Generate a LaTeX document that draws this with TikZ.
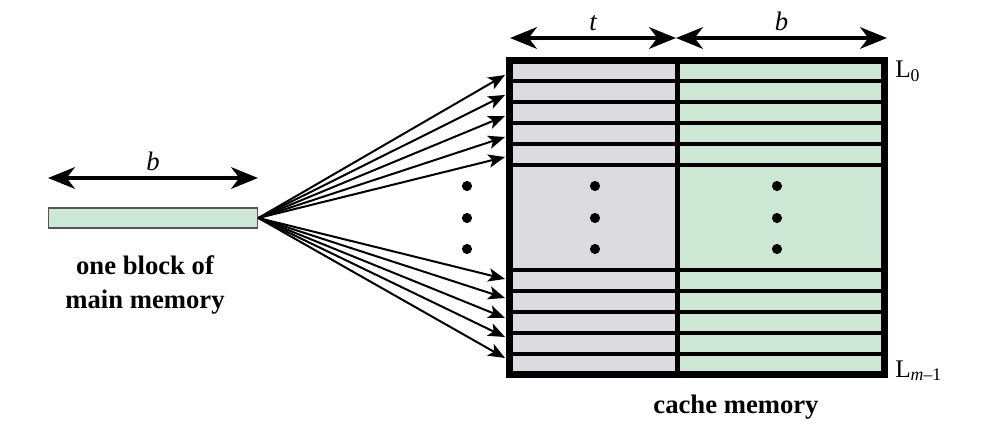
\documentclass[tikz,border=0pt]{standalone}
\usepackage{fontspec}
\setmainfont{Liberation Serif}
\usetikzlibrary{arrows.meta, positioning}
\definecolor{tagfill}{HTML}{DCDCDF}
\definecolor{datafill}{HTML}{CCE8D4}
\definecolor{edgegray}{HTML}{555555}

\begin{document}
\begin{tikzpicture}[x=0.75pt, y=-0.75pt,
    block/.style={rectangle, draw=edgegray, line width=1.1pt, fill=datafill, minimum width=157pt, minimum height=15pt, inner sep=0pt},
    frame/.style={rectangle, draw, line width=5.25pt, minimum width=281.25pt, minimum height=235.5pt, inner sep=0pt},
    dim/.style={line width=3.6pt, {Stealth[length=20pt,width=16pt,inset=6pt]}-{Stealth[length=20pt,width=16pt,inset=6pt]}},
    fan/.style={line width=1.5pt, -{Stealth[length=12.5pt,width=10pt,inset=3pt]}},
    caption/.style={font=\fontsize{20}{25.3}\selectfont\bfseries, align=center},
    sym/.style={font=\fontsize{20}{24}\selectfont\itshape},
    linelbl/.style={font=\fontsize{19}{22}\selectfont, anchor=base west, inner sep=0pt}]
    \useasboundingbox (0,0) rectangle (986,428);

    % main memory block
    \node [block] (blk) at (153,218) {};
    \coordinate (bL) at (48,178);
    \coordinate (bR) at (258,178);
    \draw [dim] (bL) -- node [above, sym] {b} (bR);
    \node [caption] (blklbl) at (145,285) {one block of\\main memory};

    % cache lines
    \fill [tagfill] (513,63.5) rectangle (677,371);
    \fill [datafill] (677,63.5) rectangle (881,371);
    \foreach \y in {81,102,123,144,165,270,291,312,333,354}
        \draw [line width=3pt] (509,\y) -- (884,\y);
    \draw [line width=3.75pt] (677,60.5) -- (677,374.5);
    \node [frame] (cache) at (697,217.5) {};
    \node [caption] (cachelbl) at (736,407) {cache memory};
    \node [linelbl] (lfirst) at (895,78) {L\textsubscript{0}};
    \node [linelbl] (llast) at (895,377) {L\textsubscript{\textit{m}\textendash1}};

    % tag and block widths
    \coordinate (tL) at (510,38);
    \coordinate (tR) at (676,38);
    \coordinate (dR) at (887,38);
    \draw [dim] (tL) -- node [above, sym] {t} (tR);
    \draw [dim] (tR) -- node [above, sym] {b} (dR);

    % block may go to any line
    \foreach \y [count=\i] in {75,95,116,137,157,279,298,318,337,358}
        \coordinate (in\i) at (505,\y);
    \foreach \i in {1,...,10}
        \draw [fan] (blk.east) -- (in\i);

    \foreach \x in {467,595,777}
        \foreach \y in {186,218,249}
            \fill (\x,\y) circle [radius=3.8pt];
\end{tikzpicture}
\end{document}
